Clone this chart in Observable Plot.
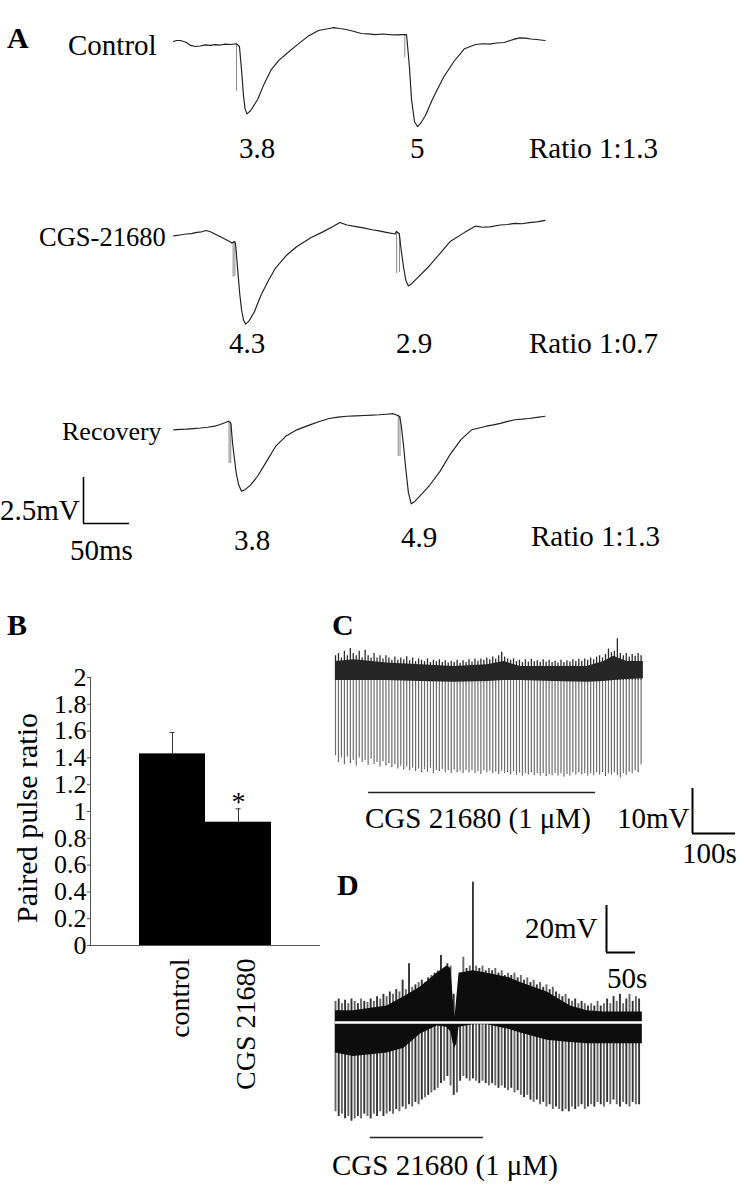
<!DOCTYPE html>
<html><head><meta charset="utf-8">
<script src="https://cdn.jsdelivr.net/npm/d3@7"></script>
<script src="https://cdn.jsdelivr.net/npm/@observablehq/plot@0.6"></script>
<style>
body{margin:0;background:#fff}
#fig{position:relative;width:744px;height:1200px;overflow:hidden;background:#fff}
</style></head><body><div id="fig"></div>
<script>
// ---------- DATA ----------
// Panel A: field potential traces, [time ms, voltage mV relative to pre-stimulus baseline]
const controlTrace = [[0,0.16],[3.3,0.22],[7.6,0.22],[10.9,0.16],[14.1,0.11],[18.5,-0.05],[23.9,-0.11],[29.3,-0.08],[34.5,-0.02],[40.2,-0.05],[45.6,-0.01],[51.1,-0.03],[56.4,0.02],[62,0],[66.3,0.03],[68,0.03],[69,0.02],[71.7,-0.11],[73.9,-1.35],[76.1,-2.8],[77.8,-3.5],[79.8,-3.77],[83.7,-3.6],[91.3,-3.0],[98.9,-2.1],[106.5,-1.35],[114.8,-0.85],[122.8,-0.5],[133.7,-0.05],[145.7,0.43],[157.6,0.76],[169.1,0.87],[174.5,0.92],[180.4,0.87],[186.2,0.83],[192.4,0.76],[204.3,0.6],[211.5,0.58],[219.6,0.54],[227.4,0.57],[234.8,0.54],[241.6,0.52],[248.9,0.54],[250.7,0.54],[253.3,0.54],[256.5,-1.25],[258.7,-2.98],[262,-4.2],[265.2,-4.46],[268.5,-4.29],[273.9,-3.86],[281.5,-2.98],[293.5,-1.78],[305,-0.91],[316.3,-0.23],[328.3,0],[335.8,0.04],[343.5,0.02],[351.2,0.08],[359.3,0.11],[370.7,0.29],[376.5,0.36],[382.6,0.35],[388.4,0.3],[394.6,0.27],[403.9,0.22]];
const cgsTrace = [[0.2,-0.02],[7.1,0.03],[13.8,0.08],[19.6,0.1],[25.4,0.17],[30.5,0.2],[35.2,0.27],[40.1,0.2],[44.9,0.08],[52.6,-0.11],[60.4,-0.31],[63.5,-0.41],[64.3,-0.38],[66.1,-0.33],[67.3,-0.43],[68.2,-0.89],[70.1,-2.06],[72.1,-3.22],[73.9,-4.0],[76,-4.58],[78.3,-4.82],[81.7,-4.67],[87.6,-4.18],[95.3,-3.22],[103.2,-2.45],[110.9,-1.77],[122.5,-1.09],[134.1,-0.6],[149.7,-0.11],[161.3,0.17],[172.9,0.47],[180.8,0.71],[188.5,0.57],[200.1,0.47],[207.8,0.4],[215.7,0.31],[223.4,0.25],[231.2,0.17],[240.9,0.08],[242.2,0.22],[245.2,0.11],[246.1,-0.16],[246.7,-0.49],[249.9,-1.67],[252.6,-2.45],[255.3,-2.74],[258.4,-2.64],[266.2,-2.25],[277.8,-1.67],[289.5,-0.99],[301.1,-0.31],[316.6,0.17],[328.3,0.51],[336.1,0.45],[343.8,0.47],[355.4,0.57],[363.2,0.6],[371,0.66],[378.8,0.64],[386.5,0.7],[395.2,0.74],[403.9,0.82]];
const recoveryTrace = [[0.2,-0.02],[7.1,0.01],[13.8,0.02],[21.6,0.05],[29.3,0.08],[37.1,0.12],[44.9,0.18],[50.7,0.27],[56.5,0.38],[59.7,0.45],[61.8,0.38],[62.5,0.27],[64.2,-0.75],[66.2,-1.57],[68.2,-2.38],[70.9,-3.02],[74,-3.35],[77.8,-3.27],[83.7,-3.02],[91.4,-2.54],[101.2,-1.73],[110.9,-0.92],[122.5,-0.35],[134.1,-0.02],[149.7,0.28],[159.4,0.45],[169.1,0.6],[178.8,0.67],[188.5,0.72],[198.2,0.74],[207.9,0.76],[215.7,0.78],[223.5,0.8],[231.3,0.83],[239,0.86],[243.6,0.76],[245.8,0.71],[246.6,0.49],[247.5,0.25],[249.9,-0.8],[252.6,-2.2],[255.3,-3.42],[258.4,-4.04],[262.3,-3.91],[270,-3.5],[277.8,-3.07],[289.5,-2.29],[301.1,-1.32],[312.7,-0.54],[324.3,-0.01],[339.9,0.18],[347.7,0.25],[355.4,0.33],[363.2,0.44],[371,0.53],[378.8,0.56],[386.5,0.6],[395.2,0.66],[403.9,0.72]];
// stimulus artifacts: [time ms, start mV, tip mV]
const controlArtifacts = [[68.5, 0.03, -2.55], [251.4, 0.54, -0.71]];
const cgsArtifacts = [[64.8, -0.38, -2.26], [66.7, -0.33, -2.23], [242.6, 0.22, -2.07], [245.7, 0.11, -2.01]];
const recoveryArtifacts = [[60.4, 0.45, -1.85], [62.2, 0.38, -1.85], [244.3, 0.79, -1.47], [246.2, 0.71, -1.47]];
const conditions = ["Control", "CGS-21680", "Recovery"];
const epspAmplitudes = [[3.8, 5], [4.3, 2.9], [3.8, 4.9]];
const pairedRatios = ["1:1.3", "1:0.7", "1:1.3"];
const scaleA = {ms: 50, mV: 2.5};

// Panel B: paired pulse ratio
const bCategories = ["control", "CGS 21680"];
const bMeans = [1.43, 0.92];
const bErrors = [0.16, 0.10];
const bSignificance = ["", "*"];
const bTicks = [0, 0.2, 0.4, 0.6, 0.8, 1, 1.2, 1.4, 1.6, 1.8, 2];

// Panel C: oscillation cycles (mV relative to resting band), one value per cycle
const cPeriod = 6.9; // s between cycles
const cTop = [5.5,6,5,6.5,5.5,7.1,6,5.5,6.5,5, 6.7,5.5,5,6,5,5.5,4.8,5.5,5,4.5, 5.2,4.5,5,4.6,5.3,4.4,5,4.2,4.8,4.5, 4.2,4.8,4,4.5,4.2,4.6,4,4.4,3.9,4.3, 4,4.5,3.8,4.4,4,4.6,4.1,4.7,4.3,4.8, 4.5,5,4.6,5.2,4.8,5.5,6.3,5.2,4.8,4.5, 4.8,4.2,4.5,4,4.6,4.1,4.7,4.2,4.4,4, 4.6,4.1,4.5,4,4.3,3.9,4.5,4,4.4,4.1, 4.6,4.2,4.7,4.3,4.8,4.5,5,4.6,5.2,5.5, 5,5.8,7,6.2,6.5,9.3,6,5.5,6,5.2, 5.8,5.4,6,5.5];
const cBottom = [-16.5,-18,-17,-18.5,-16.8,-18.2,-17.5,-18.8,-17,-18, -17.5,-18.6,-17.2,-18.4,-18,-19,-17.8,-18.7,-18.2,-19.1, -18.5,-19.4,-18.8,-19.6,-19,-19.8,-19.2,-20,-19.4,-20.2, -19.5,-20.1,-19.3,-20.4,-19.7,-20,-19.5,-20.3,-19.8,-20.4, -19.6,-20.2,-19.9,-20.5,-19.7,-20.3,-19.8,-20.4,-20,-20.6, -19.8,-20.3,-19.9,-20.5,-20.1,-20.6,-19.9,-20.4,-20.2,-20.7, -20,-20.8,-20.3,-21,-20.4,-20.7,-20.2,-20.9,-20.4,-21, -20.5,-21.1,-20.6,-20.9,-20.4,-21,-20.5,-21.2,-20.6,-21, -20.3,-20.8,-20.2,-20.7,-20.4,-21,-20.5,-20.9,-20.3,-20.8, -20.2,-21.1,-20.5,-20.8,-20.3,-20.9,-21.4,-20.4,-20.8,-20.1, -20.5,-19.8,-20.2,-18.5];
const cBandTime = [0, 43, 120, 198, 275, 353, 392, 430, 508, 585, 624, 647, 678, 716];
const cBandHigh = [4.2, 4.6, 3.9, 3.5, 3.1, 3.5, 4.2, 3.1, 3.1, 3.1, 4.2, 5.4, 4.2, 4.2];
const cBandLow = [0, 0, 0, -0.2, -0.4, -0.2, 0, 0, -0.2, -0.4, -0.2, 0, 0.2, 0.4];
const cDrug = {start: 77, end: 605}; // s
const scaleC = {s: 100, mV: 10};

// Panel D: oscillation cycles (mV relative to mid line)
const dPeriod = 5.51; // s between cycles
const dTrough = [-38,-40,-39,-41,-40,-42,-41,-40,-41,-39, -40,-41,-39,-40,-38,-40,-39,-38,-39,-37, -38,-36,-37,-35,-36,-34,-35,-33,-32,-31, -30,-29,-28,-26,-25,-23,-27,-31,-30,-25, -23,-24,-25,-24,-25,-26,-25,-26,-27,-26, -27,-28,-27,-28,-29,-28,-30,-29,-31,-32, -31,-33,-34,-33,-35,-34,-36,-35,-37,-36, -37,-38,-37,-38,-36,-37,-36,-35,-37,-36, -35,-36,-34,-35,-36,-34,-35,-33,-35,-36, -34,-35,-36,-34,-35,-35];
const dPeak = [9,10,8,9.5,8,10,9,8,10,9, 8.5,10,9,11,10,12,11,13,12,14, 13,18,14,25,15,16,17,18,17,19, 20,21,22,28.5,23,25,24,12,6,21, 27.8,23,24,59.7,24,23,24,22,23,22, 23,21,22,20,21,20,21,19,20,18, 19,17,18,16,17,15,16,14,15,13, 12,11,12,10,9,10,8,9,8,7, 8,7,9,7,8,10,8,11,9,12, 8,10,12,9,11,10];
const dEnvTime = [0, 31, 89, 118, 146, 175, 192, 199, 203, 206, 209, 213, 237, 262, 300, 319, 365, 405, 434, 462, 491, 529];
const dEnvUpper = [5, 5, 7, 11, 15, 21, 24, 23, 10, 2, 10, 21, 22, 21, 19, 17, 13, 7, 5, 4.5, 4.5, 4.5];
const dEnvLower = [-13, -14.5, -13, -11, -5, -1.5, -2, -4, -9, -11, -9, -2, -1, -1, -3, -4.5, -7.5, -8.5, -9, -9, -9, -9];
const dDrug = {start: 60, end: 255}; // s
const scaleD = {s: 50, mV: 20};

// ---------- LAYOUT ----------
const fig = document.getElementById("fig");
const SERIF = "'Liberation Serif', 'Times New Roman', Times, serif";
function place(svg, left, top) {
  svg.style.position = "absolute";
  svg.style.left = left + "px";
  svg.style.top = top + "px";
  svg.style.background = "transparent";
  svg.style.overflow = "visible";
  svg.style.maxWidth = "none";
  fig.appendChild(svg);
}
function bare(opts) {
  return Plot.plot(Object.assign({margin: 0, style: {background: "transparent", overflow: "visible", fontFamily: SERIF}}, opts));
}

// Panel A traces
const A_PX_MS = 0.92, A_PX_MV = 18.4, A_W = 380, A_H = 120, A_ABOVE = 40;
const aTraces = [controlTrace, cgsTrace, recoveryTrace];
const aArtifacts = [controlArtifacts, cgsArtifacts, recoveryArtifacts];
const aBaselineY = [44, 235, 429];
aTraces.forEach((tr, k) => {
  const svg = bare({
    width: A_W, height: A_H,
    x: {domain: [0, A_W / A_PX_MS], axis: null},
    y: {domain: [-(A_H - A_ABOVE) / A_PX_MV, A_ABOVE / A_PX_MV], axis: null},
    marks: [
      Plot.ruleX(aArtifacts[k], {x: d => d[0], y1: d => d[1], y2: d => d[2], stroke: "#7a7a7a", strokeWidth: 0.9}),
      Plot.line(tr, {x: d => d[0], y: d => d[1], stroke: "#1e1e1e", strokeWidth: 1.15})
    ]
  });
  place(svg, 173, aBaselineY[k] - A_ABOVE);
});
function scaleBar(sb, xKey, pxPerX, pxPerY, left, top, sw) {
  const w = sb[xKey] * pxPerX, h = sb.mV * pxPerY;
  const svg = bare({
    width: w, height: h,
    x: {domain: [0, sb[xKey]], axis: null},
    y: {domain: [0, sb.mV], axis: null},
    marks: [
      Plot.ruleX([sb], {x: () => 0, y1: () => 0, y2: "mV", stroke: "#000", strokeWidth: sw}),
      Plot.ruleY([sb], {y: () => 0, x1: () => 0, x2: xKey, stroke: "#000", strokeWidth: sw})
    ]
  });
  place(svg, left, top);
}
scaleBar(scaleA, "ms", A_PX_MS, A_PX_MV, 83, 477, 1.6);

// Panel B bar chart
const bData = bCategories.map((c, i) => ({cat: c, mean: bMeans[i], err: bErrors[i], sig: bSignificance[i]}));
const bPlot = Plot.plot({
  width: 330, height: 448, marginLeft: 90, marginRight: 10, marginTop: 20, marginBottom: 160,
  style: {background: "transparent", overflow: "visible", fontFamily: SERIF, fontSize: "26px", color: "#000"},
  x: {domain: bCategories, paddingInner: 0, paddingOuter: 0.7424, axis: null},
  y: {domain: [0, 2], axis: null},
  marks: [
    Plot.barY(bData, {x: "cat", y: "mean", fill: "#000"}),
    Plot.ruleX(bData, {x: "cat", y1: "mean", y2: d => d.mean + d.err, stroke: "#333", strokeWidth: 1}),
    Plot.tickY(bData, {x: "cat", y: d => d.mean + d.err, insetLeft: 30.5, insetRight: 30.5, stroke: "#333", strokeWidth: 1}),
    Plot.text(bData, {x: "cat", y: d => d.mean + d.err, text: "sig", fontSize: 28, lineAnchor: "middle", dy: -7, fill: "#000"}),
    Plot.frame({anchor: "left", stroke: "#555"}),
    Plot.ruleY([0], {stroke: "#555"}),
    Plot.axisY({ticks: bTicks, tickFormat: d => String(d), tickSize: 3, tickPadding: 1, fontSize: 26, stroke: "#555", fill: "#000", label: null}),
    Plot.axisX({tickSize: 0, tickRotate: -90, tickPadding: 13, fontSize: 28, fill: "#000", label: null, dx: 8})
  ]
});
place(bPlot, 0, 657);

// Panel C trace
const C_PX_S = 0.43, C_PX_MV = 4.5, C_W = 308, C_H = 160, C_ABOVE = 50;
const cCycles = cTop.map((t, i) => ({t: i * cPeriod, hi: t, lo: cBottom[i]}));
const cBand = cBandTime.map((t, i) => ({t, hi: cBandHigh[i], lo: cBandLow[i]}));
const cPlot = bare({
  width: C_W, height: C_H,
  x: {domain: [0, C_W / C_PX_S], axis: null},
  y: {domain: [-(C_H - C_ABOVE) / C_PX_MV, C_ABOVE / C_PX_MV], axis: null},
  marks: [
    Plot.ruleX(cCycles, {x: "t", y1: "lo", y2: 0, stroke: "#6c6c6c", strokeWidth: 1.2}),
    Plot.ruleX(cCycles, {x: "t", y1: 0, y2: "hi", stroke: "#2a2a2a", strokeWidth: 1.3}),
    Plot.areaY(cBand, {x: "t", y1: "lo", y2: "hi", fill: "#262626"}),
    Plot.dot(cCycles, {x: "t", y: "lo", r: 0.6, fill: "#333"})
  ]
});
place(cPlot, 335, 680 - C_ABOVE);
function drugBar(drug, width, pxPerS, left, top) {
  const svg = bare({
    width, height: 2,
    x: {domain: [0, width / pxPerS], axis: null},
    y: {domain: [-1, 1], axis: null},
    marks: [Plot.ruleY([drug], {y: () => 0, x1: "start", x2: "end", stroke: "#222", strokeWidth: 1.6})]
  });
  place(svg, left, top);
}
drugBar(cDrug, C_W, C_PX_S, 335, 791);
scaleBar(scaleC, "s", C_PX_S, C_PX_MV, 692, 788, 2);

// Panel D trace
const D_PX_S = 0.58, D_PX_MV = 2.35, D_W = 307, D_H = 260, D_ABOVE = 152;
const dCycles = dTrough.map((lo, i) => ({t: i * dPeriod, lo, hi: dPeak[i], k: i % 2}));
const dEnv = dEnvTime.map((t, i) => ({t, hi: dEnvUpper[i], lo: dEnvLower[i]}));
const dPlot = bare({
  width: D_W, height: D_H,
  x: {domain: [0, D_W / D_PX_S], axis: null},
  y: {domain: [-(D_H - D_ABOVE) / D_PX_MV, D_ABOVE / D_PX_MV], axis: null},
  marks: [
    Plot.ruleX(dCycles, {x: "t", y1: "lo", y2: "hi", stroke: d => d.k ? "#333" : "#666", strokeWidth: 1.9}),
    Plot.areaY(dEnv, {x: "t", y1: "lo", y2: "hi", fill: "#0d0d0d"}),
    Plot.ruleY([0], {stroke: "#fff", strokeWidth: 2.5})
  ]
});
place(dPlot, 335, 1022 - D_ABOVE);
drugBar(dDrug, D_W, D_PX_S, 335, 1136);
scaleBar(scaleD, "s", D_PX_S, D_PX_MV, 606, 905, 2);

// ---------- TEXT ----------
const tsvg = d3.create("svg").attr("width", 744).attr("height", 1200)
  .style("position", "absolute").style("left", "0px").style("top", "0px")
  .style("overflow", "visible").attr("font-family", SERIF);
function label(t, x, y, size, opts = {}) {
  const el = tsvg.append("text").attr("x", x).attr("y", y).attr("font-size", size).attr("fill", "#000").text(t);
  if (opts.bold) el.attr("font-weight", "bold");
  if (opts.anchor) el.attr("text-anchor", opts.anchor);
  if (opts.rotate) el.attr("transform", `rotate(${opts.rotate},${x},${y})`);
  return el;
}
// panel letters
label("A", 7, 48, 30, {bold: true});
label("B", 7, 635, 30, {bold: true});
label("C", 332, 635, 30, {bold: true});
label("D", 337, 895, 30, {bold: true});
// panel A labels
const condPos = [{x: 68, y: 55, s: 29}, {x: 39, y: 246, s: 26.5}, {x: 62, y: 440, s: 26}];
conditions.forEach((c, k) => label(c, condPos[k].x, condPos[k].y, condPos[k].s));
const ampPos = [[[239, 158], [410, 158]], [[229, 353], [396, 353]], [[234, 550], [401, 547]]];
const ratioPos = [[529, 158], [529, 353], [531, 546]];
epspAmplitudes.forEach((amps, k) => {
  amps.forEach((a, j) => label(String(a), ampPos[k][j][0], ampPos[k][j][1], 29));
  label("Ratio " + pairedRatios[k], ratioPos[k][0], ratioPos[k][1], 29);
});
label(scaleA.mV + "mV", 0, 520, 29);
label(scaleA.ms + "ms", 70, 560, 29);
// panel B axis title
label("Paired pulse ratio", 37, 818, 30, {anchor: "middle", rotate: -90});
// panel C
label("CGS 21680 (1 \u03bcM)", 365, 828, 29);
label(scaleC.mV + "mV", 617, 828, 29);
label(scaleC.s + "s", 682, 863, 29);
// panel D
label(scaleD.mV + "mV", 525, 938, 29);
label(scaleD.s + "s", 607, 988, 29);
label("CGS 21680 (1 \u03bcM)", 332, 1175, 29);
fig.appendChild(tsvg.node());
</script>
</body></html>
